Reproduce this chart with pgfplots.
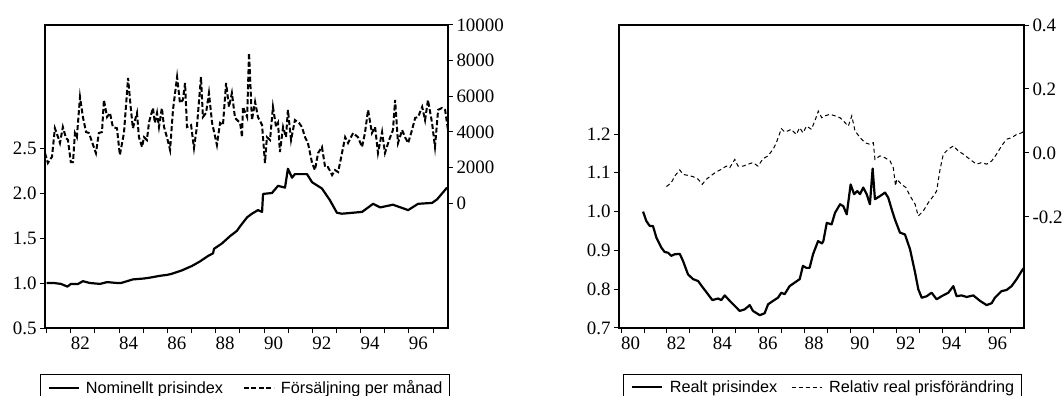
\documentclass[border=0pt]{standalone}
\usepackage{fontspec}
\setmainfont{Liberation Serif}
\newfontfamily\legfont{Liberation Sans}
\usepackage{pgfplots}
\usepackage{pgfplotstable}
\pgfplotsset{compat=1.18}

\pgfplotstableread{
x y
1981.00 1.00
1981.30 1.00
1981.59 0.99
1981.86 0.96
1982.00 0.99
1982.30 0.99
1982.50 1.02
1982.79 1.00
1983.21 0.99
1983.50 1.01
1983.91 1.00
1984.08 1.00
1984.57 1.04
1985.03 1.05
1985.28 1.06
1985.69 1.08
1985.98 1.09
1986.15 1.10
1986.60 1.14
1987.02 1.19
1987.35 1.24
1987.68 1.30
1987.89 1.33
1987.93 1.38
1988.26 1.44
1988.59 1.52
1988.88 1.58
1989.01 1.63
1989.30 1.73
1989.50 1.77
1989.75 1.81
1989.92 1.79
1989.96 1.99
1990.33 2.00
1990.58 2.08
1990.87 2.06
1990.99 2.27
1991.16 2.17
1991.28 2.21
1991.78 2.21
1991.99 2.12
1992.40 2.05
1992.73 1.92
1993.02 1.78
1993.23 1.77
1993.65 1.78
1994.06 1.79
1994.52 1.88
1994.81 1.84
1995.34 1.87
1995.97 1.81
1996.38 1.88
1996.96 1.89
1997.17 1.93
1997.58 2.06
}\nominal

\pgfplotstableread{
x y
1980.93 2800
1981.05 2250
1981.22 2600
1981.34 4200
1981.47 3700
1981.55 3370
1981.67 4270
1981.80 3650
1981.88 3540
1982.00 2300
1982.09 2300
1982.17 3930
1982.25 3700
1982.38 5960
1982.50 4830
1982.63 3990
1982.75 3930
1983.04 2800
1983.16 3930
1983.29 3990
1983.37 5790
1983.50 4830
1983.62 5060
1983.74 4270
1983.91 4200
1984.03 2700
1984.20 3930
1984.37 7020
1984.49 5230
1984.57 4200
1984.74 5060
1984.82 3700
1984.95 3150
1985.03 3700
1985.15 3540
1985.24 4550
1985.40 5340
1985.48 4500
1985.57 5060
1985.65 4270
1985.77 5340
1985.86 4270
1985.98 3700
1986.11 2980
1986.23 5230
1986.40 7080
1986.52 5620
1986.64 5790
1986.73 6740
1986.81 4270
1986.98 4380
1987.10 3090
1987.22 4270
1987.39 7080
1987.47 4830
1987.60 5060
1987.72 6180
1987.85 4500
1988.05 3260
1988.18 4500
1988.30 4380
1988.43 6740
1988.55 5400
1988.67 6180
1988.80 4780
1989.01 4500
1989.09 3700
1989.13 5400
1989.30 4830
1989.38 8430
1989.50 4660
1989.63 5680
1989.75 4830
1989.92 4380
1990.04 2250
1990.12 3700
1990.25 3540
1990.37 5400
1990.50 4270
1990.58 4500
1990.66 2870
1990.79 4270
1990.91 3700
1990.99 5230
1991.12 3540
1991.28 4660
1991.45 4500
1991.57 4270
1991.70 3700
1991.82 3370
1991.99 2250
1992.11 1850
1992.24 2810
1992.40 3150
1992.53 2020
1992.65 2020
1992.82 1570
1992.94 1850
1993.07 1740
1993.23 2810
1993.36 3700
1993.48 3370
1993.69 3930
1993.89 3700
1994.06 3150
1994.18 3930
1994.31 5230
1994.47 3930
1994.60 4270
1994.72 2810
1994.89 3990
1995.01 2810
1995.18 3540
1995.34 4100
1995.43 5790
1995.55 3370
1995.72 4100
1995.84 3700
1995.97 3370
1996.13 4100
1996.26 4780
1996.38 4830
1996.55 5400
1996.67 4660
1996.79 5790
1996.96 4500
1997.08 3150
1997.21 5230
1997.37 5340
1997.50 5230
1997.62 4100
}\sales

\pgfplotstableread{
x y
1980.96 1.000
1981.10 0.976
1981.25 0.963
1981.39 0.963
1981.54 0.933
1981.76 0.907
1981.90 0.896
1982.05 0.894
1982.19 0.886
1982.34 0.890
1982.56 0.891
1982.70 0.873
1982.92 0.838
1983.14 0.826
1983.36 0.821
1983.57 0.804
1983.79 0.787
1983.98 0.772
1984.23 0.776
1984.37 0.772
1984.52 0.784
1984.74 0.770
1984.96 0.757
1985.17 0.744
1985.39 0.748
1985.61 0.759
1985.75 0.744
1986.05 0.733
1986.26 0.738
1986.41 0.761
1986.63 0.770
1986.84 0.778
1986.99 0.791
1987.13 0.787
1987.35 0.808
1987.57 0.817
1987.79 0.826
1987.93 0.860
1988.08 0.855
1988.22 0.855
1988.37 0.890
1988.59 0.924
1988.76 0.918
1988.82 0.924
1988.97 0.971
1989.18 0.967
1989.33 0.997
1989.55 1.019
1989.69 1.014
1989.84 0.993
1990.01 1.070
1990.16 1.045
1990.30 1.053
1990.42 1.045
1990.56 1.062
1990.71 1.045
1990.85 1.019
1990.97 1.111
1991.07 1.032
1991.29 1.040
1991.51 1.049
1991.65 1.036
1991.80 1.006
1991.94 0.980
1992.16 0.946
1992.38 0.941
1992.60 0.903
1992.82 0.843
1992.96 0.800
1993.11 0.778
1993.33 0.782
1993.54 0.791
1993.76 0.774
1993.98 0.782
1994.27 0.791
1994.49 0.808
1994.63 0.782
1994.85 0.784
1995.07 0.780
1995.36 0.784
1995.65 0.770
1995.94 0.759
1996.16 0.764
1996.30 0.778
1996.59 0.795
1996.81 0.798
1997.03 0.808
1997.25 0.826
1997.47 0.847
1997.57 0.855
}\real

\pgfplotstableread{
x y
1981.98 -0.105
1982.19 -0.093
1982.34 -0.072
1982.56 -0.053
1982.70 -0.067
1982.92 -0.070
1983.14 -0.074
1983.36 -0.082
1983.54 -0.098
1983.72 -0.082
1983.94 -0.070
1984.15 -0.059
1984.37 -0.051
1984.59 -0.041
1984.74 -0.046
1984.96 -0.020
1985.10 -0.041
1985.32 -0.041
1985.54 -0.035
1985.75 -0.030
1985.97 -0.041
1986.19 -0.018
1986.41 -0.009
1986.63 0.012
1986.77 0.032
1986.99 0.076
1987.13 0.066
1987.28 0.069
1987.42 0.074
1987.64 0.058
1987.79 0.079
1987.93 0.063
1988.09 0.084
1988.30 0.074
1988.45 0.100
1988.60 0.131
1988.75 0.110
1988.89 0.116
1989.11 0.121
1989.33 0.116
1989.55 0.110
1989.76 0.095
1989.91 0.084
1990.06 0.116
1990.20 0.069
1990.42 0.048
1990.64 0.032
1990.85 0.027
1991.00 0.032
1991.07 -0.020
1991.29 -0.009
1991.51 -0.015
1991.73 -0.025
1991.87 -0.046
1991.97 -0.103
1992.02 -0.082
1992.23 -0.098
1992.42 -0.108
1992.60 -0.134
1992.82 -0.160
1992.96 -0.197
1993.18 -0.181
1993.40 -0.155
1993.62 -0.134
1993.76 -0.119
1993.91 -0.051
1994.05 -0.004
1994.27 0.012
1994.49 0.022
1994.71 0.006
1994.93 -0.004
1995.21 -0.020
1995.50 -0.035
1995.72 -0.030
1995.94 -0.035
1996.16 -0.025
1996.37 -0.004
1996.59 0.022
1996.81 0.043
1997.03 0.048
1997.25 0.058
1997.47 0.063
1997.57 0.069
}\relchg

\pgfplotsset{
  base/.style={
    scale only axis, height=303bp,
    tick align=outside, major tick length=5bp, minor tick length=5bp,
    axis line style={line width=1.4bp},
    tick style={black, line width=1bp},
    tick label style={font=\fontsize{19}{19}\selectfont},
    scaled y ticks=false, scaled x ticks=false,
    legend cell align=left,
  },
  leg/.style 2 args={
    legend columns=2,
    legend style={draw=black, line width=1.2bp, font=\legfont\fontsize{16.3}{18}\selectfont,
      anchor=north west, inner xsep=7bp, inner ysep=6bp,
      nodes={inner sep=0pt},
      /tikz/every odd column/.append style={column sep=#1},
      /tikz/every even column/.append style={column sep=#2}},
    legend image code/.code={\draw[##1] (0bp,0bp) -- (30bp,0bp); \path[draw=none,fill=none] (0bp,-4bp) (30bp,4bp);},
  },
}

\begin{document}
\begin{tikzpicture}
\path[use as bounding box] (0,0) rectangle (1064bp,396bp);

% ---------- left panel
\begin{axis}[base, width=403bp, at={(45bp,68bp)}, anchor=south west,
  xmin=1980.93, xmax=1997.62, ymin=0.5, ymax=3.867,
  xtick={1982,1984,...,1996}, xticklabels={82,84,86,88,90,92,94,96},
  minor xtick={1981,1983,...,1997}, xticklabel style={xshift=9.5bp},
  xtick pos=bottom, ytick pos=left,
  ytick={0.5,1,1.5,2,2.5}, yticklabels={0.5,1.0,1.5,2.0,2.5}]
\addplot[black, line width=2.2bp, line join=round] table {\nominal};
\end{axis}
\begin{axis}[base, width=403bp, at={(45bp,68bp)}, anchor=south west,
  axis y line*=right, axis x line=none,
  xmin=1980.93, xmax=1997.62, ymin=-7020, ymax=10000,
  ytick={0,2000,4000,6000,8000,10000}, yticklabels={0,2000,4000,6000,8000,10000},
  leg={6bp}{20bp},
  legend style={at={(axis description cs:-0.0124,-0.152)}}]
\addlegendimage{black, line width=2.2bp}
\addlegendentry{Nominellt prisindex}
\addplot[black, line width=2bp, dash pattern=on 5bp off 2.5bp] table {\sales};
\addlegendentry{Försäljning per månad}
\end{axis}

% ---------- right panel
\begin{axis}[base, width=405bp, at={(619bp,68bp)}, anchor=south west,
  xmin=1979.91, xmax=1997.57, ymin=0.7, ymax=1.481,
  xtick={1980,1982,...,1996}, xticklabels={80,82,84,86,88,90,92,94,96},
  minor xtick={1981,1983,...,1997}, xticklabel style={xshift=9.5bp},
  xtick pos=bottom, ytick pos=left,
  ytick={0.7,0.8,0.9,1.0,1.1,1.2}, yticklabels={0.7,0.8,0.9,1.0,1.1,1.2}]
\addplot[black, line width=2.2bp, line join=round] table {\real};
\end{axis}
\begin{axis}[base, width=405bp, at={(619bp,68bp)}, anchor=south west,
  axis y line*=right, axis x line=none,
  xmin=1979.91, xmax=1997.57, ymin=-0.547, ymax=0.4,
  ytick={-0.2,0,0.2,0.4}, yticklabels={-0.2,0.0,0.2,0.4},
  leg={7bp}{14bp},
  legend style={at={(axis description cs:0.0099,-0.152)}}]
\addlegendimage{black, line width=2.2bp}
\addlegendentry{Realt prisindex}
\addplot[black, line width=1bp, dash pattern=on 4bp off 3bp] table {\relchg};
\addlegendentry{Relativ real prisförändring}
\end{axis}
\end{tikzpicture}
\end{document}
